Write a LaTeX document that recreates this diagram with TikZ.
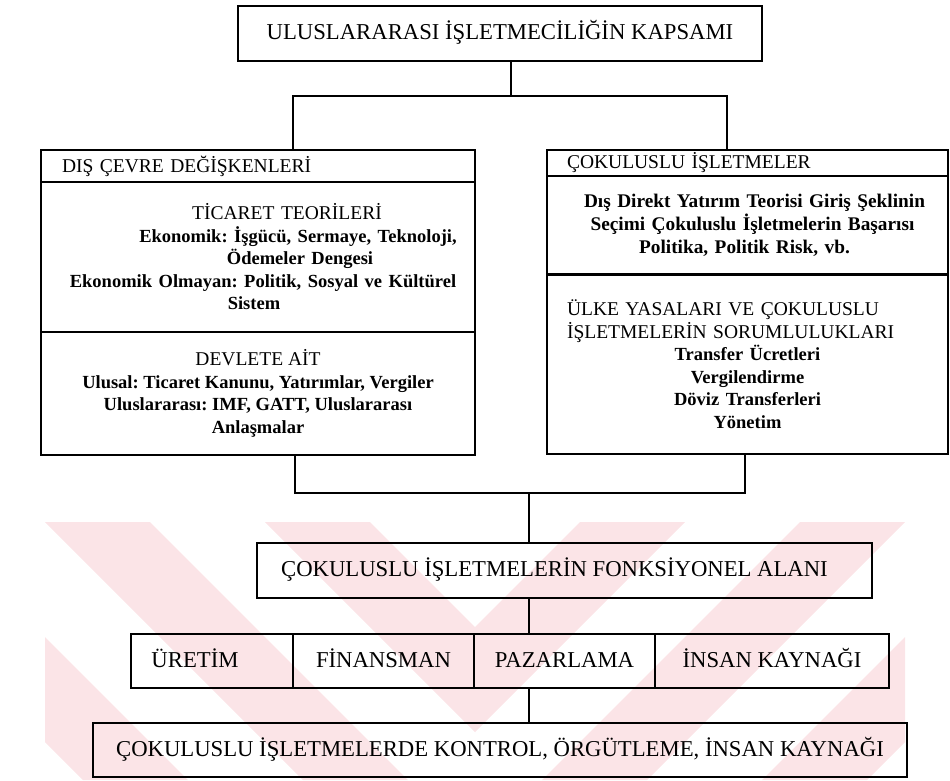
\documentclass[tikz,border=0pt]{standalone}
\usepackage{fontspec}
\setmainfont{Liberation Serif}
\definecolor{wmpink}{RGB}{251,228,231}
\begin{document}
\frenchspacing
\begin{tikzpicture}[x=1pt,y=-1pt,
  frame/.style={draw=black, line width=1.2pt, inner sep=0pt, outer sep=0pt},
  link/.style={draw=black, line width=1.2pt},
  band/.style={fill=wmpink, draw=none},
  big/.style={font=\fontsize{22.7}{26}\selectfont, text height=16pt, text depth=4pt},
  caps/.style={font=\fontsize{19.5}{22.5}\selectfont},
]
\newcommand{\low}{\fontsize{18.5}{22.5}\selectfont\bfseries}
% one centred line, moved sideways by #1
\newcommand{\nudge}[2]{\makebox[\linewidth]{\hspace*{#1}#2\hspace*{-#1}}}
\useasboundingbox (0,0) rectangle (950,780);

% faint chevron watermark behind the lower part
\begin{scope}
  \clip (45,522) rectangle (475,780);
  \foreach \a in {-175,45,265}
    \fill[band] (\a,522) -- ++(105,0) -- ++(258,258) -- ++(-105,0) -- cycle;
\end{scope}
\begin{scope}
  \clip (475,522) rectangle (905,780);
  \foreach \b in {580,800,1020}
    \fill[band] (\b,522) -- ++(105,0) -- ++(-258,258) -- ++(-105,0) -- cycle;
\end{scope}

% title
\node[frame, big, minimum width=524pt, minimum height=55pt] (scope) at (500,33.5)
  {ULUSLARARASI İŞLETMECİLİĞİN KAPSAMI};

% left column: external environment
\node[frame, caps, minimum width=434pt, minimum height=32pt, text width=392pt,
      inner xsep=21pt, align=left] (envhead) at (258,166) {DIŞ ÇEVRE DEĞİŞKENLERİ};
\node[frame, caps, minimum width=434pt, minimum height=150pt, text width=420pt,
      inner xsep=7pt, align=center] (trade) at (258,257)
  {\nudge{29pt}{TİCARET TEORİLERİ}\\
   {\low\nudge{40pt}{Ekonomik: İşgücü, Sermaye, Teknoloji,}}\\
   {\low\nudge{42pt}{Ödemeler Dengesi}}\\
   {\low\nudge{5pt}{Ekonomik Olmayan: Politik, Sosyal ve Kültürel}}\\
   {\low\nudge{-4pt}{Sistem}}};
\node[frame, caps, minimum width=434pt, minimum height=123pt, align=center] (state) at (258,393.5)
  {DEVLETE AİT\\
   {\low Ulusal: Ticaret Kanunu, Yatırımlar, Vergiler}\\
   {\low Uluslararası: IMF, GATT, Uluslararası}\\
   {\low Anlaşmalar}};

% right column: multinational enterprises
\node[frame, caps, minimum width=401pt, minimum height=26pt, text width=361pt,
      inner xsep=20pt, align=left] (mnehead) at (747.5,163) {ÇOKULUSLU İŞLETMELER};
\node[frame, minimum width=401pt, minimum height=99pt, text width=390pt, inner xsep=5.5pt,
      align=center, font=\fontsize{19.3}{23}\selectfont\bfseries] (fdi) at (747.5,225.5)
  {\nudge{7pt}{Dış Direkt Yatırım Teorisi Giriş Şeklinin}\\
   \nudge{5pt}{Seçimi Çokuluslu İşletmelerin Başarısı}\\
   \nudge{-3pt}{Politika, Politik Risk, vb.}};
\node[frame, caps, minimum width=401pt, minimum height=180pt, text width=361pt,
      inner xsep=20pt, align=center] (laws) at (747.5,364)
  {\makebox[\linewidth][l]{ÜLKE YASALARI VE ÇOKULUSLU}\\
   \makebox[\linewidth][l]{İŞLETMELERİN SORUMLULUKLARI}\\
   {\low Transfer Ücretleri}\\
   {\low Vergilendirme}\\
   {\low Döviz Transferleri}\\
   {\low Yönetim}};

% functional area
\node[frame, big, minimum width=615pt, minimum height=55pt] (func) at (564.5,570.5)
  {ÇOKULUSLU İŞLETMELERİN FONKSİYONEL ALANI\hspace*{20pt}};

% functions row
\node[frame, big, minimum width=162pt, minimum height=54pt] (prod) at (212,661)
  {ÜRETİM\hspace*{34pt}};
\node[frame, big, minimum width=181pt, minimum height=54pt] (fin) at (383.5,661) {FİNANSMAN};
\node[frame, big, minimum width=181pt, minimum height=54pt] (mkt) at (564.5,661) {PAZARLAMA};
\node[frame, big, minimum width=234pt, minimum height=54pt] (hr) at (772,661) {İNSAN KAYNAĞI};

% control and organisation
\node[frame, big, minimum width=814pt, minimum height=54pt] (ctrl) at (500,750)
  {ÇOKULUSLU İŞLETMELERDE KONTROL, ÖRGÜTLEME, İNSAN KAYNAĞI};

% connectors
\coordinate (topmid) at (511,96);
\coordinate (topL) at (293,96);
\coordinate (topR) at (727,96);
\draw[link] (scope.south -| topmid) -- (topmid);
\draw[link] (envhead.north -| topL) -- (topL) -- (topR) -- (mnehead.north -| topR);

\coordinate (botL) at (295,493);
\coordinate (botR) at (745,493);
\coordinate (botmid) at (529,493);
\draw[link] (state.south -| botL) -- (botL) -- (botR) -- (laws.south -| botR);
\draw[link] (botmid) -- (func.north -| botmid);

\coordinate (rowmid) at (529,600);
\draw[link] (func.south -| rowmid) -- (mkt.north -| rowmid);
\draw[link] (mkt.south -| rowmid) -- (ctrl.north -| rowmid);
\end{tikzpicture}
\end{document}
